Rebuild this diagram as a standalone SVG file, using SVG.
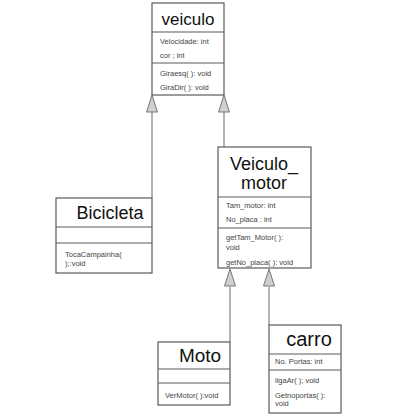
<svg xmlns="http://www.w3.org/2000/svg" width="402" height="419" viewBox="0 0 402 419">
<style>
.box{fill:#fff;stroke:#5a5a5a;stroke-width:1.2}
.div{stroke:#5a5a5a;stroke-width:1.2}
.t{font-family:"Liberation Sans",Arial,sans-serif;fill:#111;text-anchor:middle}
.s{font-family:"Liberation Sans",Arial,sans-serif;fill:#444;font-size:7.5px}
.c{fill:none;stroke:#666;stroke-width:1}
.tri{fill:#cfcfcf;stroke:#777;stroke-width:1}
</style>
<rect width="402" height="419" fill="#fff"/>
<g id="connectors">
<polyline class="c" points="152,112 152,198"/>
<polyline class="c" points="224,112 224,147"/>
<polyline class="c" points="230,287 230,342"/>
<polyline class="c" points="269,287 269,325"/>
<polygon class="tri" points="152,95 146.5,112 157.5,112"/>
<polygon class="tri" points="224,95 218.5,112 229.5,112"/>
<polygon class="tri" points="230,269 224.5,286 235.5,286"/>
<polygon class="tri" points="269,269 263.5,286 274.5,286"/>
</g>
<g id="veiculo">
<rect class="box" x="152" y="3" width="72" height="92"/>
<line class="div" x1="152" y1="32" x2="224" y2="32"/>
<line class="div" x1="152" y1="63" x2="224" y2="63"/>
<text class="t" x="188" y="25" font-size="17">veiculo</text>
<text class="s" x="160" y="44">Velocidade: int</text>
<text class="s" x="160" y="58">cor ; int</text>
<text class="s" x="160" y="76">Giraesq( ): void</text>
<text class="s" x="160" y="90">GiraDir( ): void</text>
</g>
<g id="veiculo_motor">
<rect class="box" x="218" y="147" width="93" height="121"/>
<line class="div" x1="218" y1="197" x2="311" y2="197"/>
<line class="div" x1="218" y1="228" x2="311" y2="228"/>
<text class="t" x="264" y="170" font-size="18">Veiculo_</text>
<text class="t" x="264" y="189" font-size="18">motor</text>
<text class="s" x="226" y="208">Tam_motor: int</text>
<text class="s" x="226" y="222">No_placa : int</text>
<text class="s" x="226" y="240">getTam_Motor( ):</text>
<text class="s" x="226" y="250">void</text>
<text class="s" x="226" y="265">getNo_placa( ): void</text>
</g>
<g id="bicicleta">
<rect class="box" x="56" y="198" width="96" height="75"/>
<line class="div" x1="56" y1="227" x2="152" y2="227"/>
<line class="div" x1="56" y1="243" x2="152" y2="243"/>
<text class="t" x="110" y="219" font-size="18">Bicicleta</text>
<text class="s" x="65" y="257">TocaCampainha(</text>
<text class="s" x="65" y="266">);:void</text>
</g>
<g id="moto">
<rect class="box" x="158" y="342" width="72" height="63"/>
<line class="div" x1="158" y1="369" x2="230" y2="369"/>
<line class="div" x1="158" y1="383" x2="230" y2="383"/>
<text class="t" x="200" y="362" font-size="19">Moto</text>
<text class="s" x="165" y="398">VerMotor( ):void</text>
</g>
<g id="carro">
<rect class="box" x="269" y="325" width="72" height="88"/>
<line class="div" x1="269" y1="354" x2="341" y2="354"/>
<line class="div" x1="269" y1="370" x2="341" y2="370"/>
<text class="t" x="309" y="346" font-size="20">carro</text>
<text class="s" x="275" y="364">No. Portas: int</text>
<text class="s" x="275" y="383">ligaAr( ); void</text>
<text class="s" x="275" y="398">Getnoportas( ):</text>
<text class="s" x="275" y="406">void</text>
</g>
</svg>
